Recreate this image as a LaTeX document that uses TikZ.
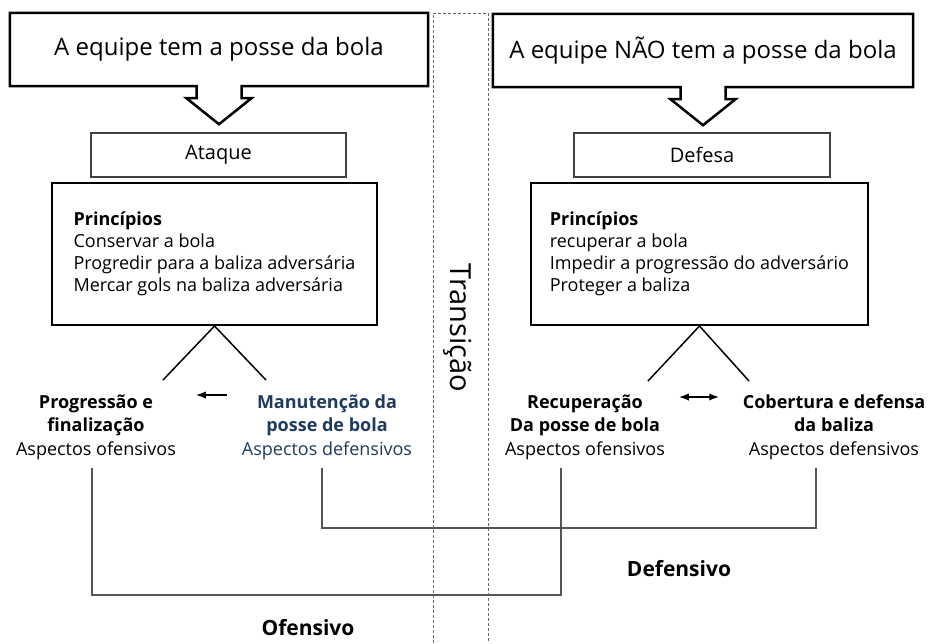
\documentclass[tikz,border=0pt]{standalone}
\usepackage{fontspec}
\setmainfont{Open Sans}
\usepackage{tikz}
\usetikzlibrary{arrows.meta}
\definecolor{navy}{HTML}{1F3A5F}
\definecolor{linegray}{HTML}{555555}
\tikzset{
    every node/.style={align=center,},
    situation/.style={minimum width=418pt,minimum height=73pt,font=\fontsize{24}{28}\selectfont,},
    callout/.style={draw,line width=2.5pt,line join=miter,},
    phase/.style={draw=black!75,line width=1.3pt,minimum width=255pt,minimum height=44pt,font=\fontsize{20}{24}\selectfont,},
    principles/.style={draw,line width=2pt,align=left,minimum height=142pt,font=\fontsize{18}{22}\selectfont,},
    aspect/.style={font=\fontsize{18}{23.5}\selectfont,},
    side/.style={font=\fontsize{21}{24}\selectfont\bfseries,},
    link/.style={line width=1.5pt,},
    bracket/.style={draw=linegray,line width=1.3pt,},
    transition/.style={draw=black!60,line width=0.9pt,dash pattern=on 3pt off 2pt,},
}

\begin{document}
\begin{tikzpicture}[x=1pt,y=-1pt]
        \useasboundingbox (0,0) rectangle (929,643);

        \draw[transition] (433,643) -- (433,13) -- (488,13) -- (488,643);
        \node[rotate=-90, font=\fontsize{29}{32}\selectfont] (transicao) at (458,328) {Transição};

        \node[situation] (posse) at (219,49.5) {A equipe tem a posse da bola};
        \draw[callout] (posse.south west) -- (posse.north west) -- (posse.north east) -- (posse.south east)
            -- ([xshift=22.5pt]posse.south) -- ++(0,12) -- ++(10,0) -- ++(-32.5,26) -- ++(-32.5,-26) -- ++(10,0) -- ++(0,-12) -- cycle;
        \node[situation, minimum width=420pt] (semposse) at (703,50.5) {A equipe NÃO tem a posse da bola};
        \draw[callout] (semposse.south west) -- (semposse.north west) -- (semposse.north east) -- (semposse.south east)
            -- ([xshift=22.5pt]semposse.south) -- ++(0,12) -- ++(10,0) -- ++(-32.5,26) -- ++(-32.5,-26) -- ++(10,0) -- ++(0,-12) -- cycle;

        \node[phase] (ataque) at (218.5,155) {Ataque};
        \node[phase, minimum width=256pt] (defesa) at (702,155) {Defesa};

        \node[principles, minimum width=325pt] (ataqueprinc) at (214.5,254) {\textbf{Princípios}\\Conservar a bola\\Progredir para a baliza adversária\\Mercar gols na baliza adversária};
        \node[principles, minimum width=337pt] (defesaprinc) at (699.5,254) {\textbf{Princípios}\\recuperar a bola\\Impedir a progressão do adversário\\Proteger a baliza};

        \coordinate (progend) at (163,380);
        \coordinate (manutend) at (266,380);
        \coordinate (recupend) at (648,381);
        \coordinate (cobertend) at (749,381);
        \draw[link] (progend) -- (ataqueprinc.south) -- (manutend);
        \draw[link] (recupend) -- (defesaprinc.south) -- (cobertend);

        \node[aspect] (prog) at (96,427) {\textbf{Progressão e}\\\textbf{finalização}\\Aspectos ofensivos};
        \node[aspect, text=navy] (manut) at (327,427) {\textbf{Manutenção da}\\\textbf{posse de bola}\\Aspectos defensivos};
        \node[aspect] (recup) at (585,427) {\textbf{Recuperação}\\\textbf{Da posse de bola}\\Aspectos ofensivos};
        \node[aspect] (cobert) at (834,427) {\textbf{Cobertura e defensa}\\\textbf{da baliza}\\Aspectos defensivos};

        \coordinate (manutarrow) at (227,395);
        \coordinate (progarrow) at (196,395);
        \coordinate (recuparrow) at (679,397);
        \coordinate (cobertarrow) at (719,397);
        \draw[link, -Latex] (manutarrow) -- (progarrow);
        \draw[link, Latex-Latex] (recuparrow) -- (cobertarrow);

        \coordinate (progfoot) at (92,468);
        \coordinate (manutfoot) at (322,468);
        \coordinate (recupfoot) at (561,468);
        \coordinate (cobertfoot) at (816,468);
        \draw[bracket] (progfoot) -- ++(0,127) -| (recupfoot);
        \draw[bracket] (manutfoot) -- ++(0,60) -| (cobertfoot);

        \node[side] (ofensivo) at (308,628) {Ofensivo};
        \node[side] (defensivo) at (679,569) {Defensivo};
    \end{tikzpicture}
\end{document}
